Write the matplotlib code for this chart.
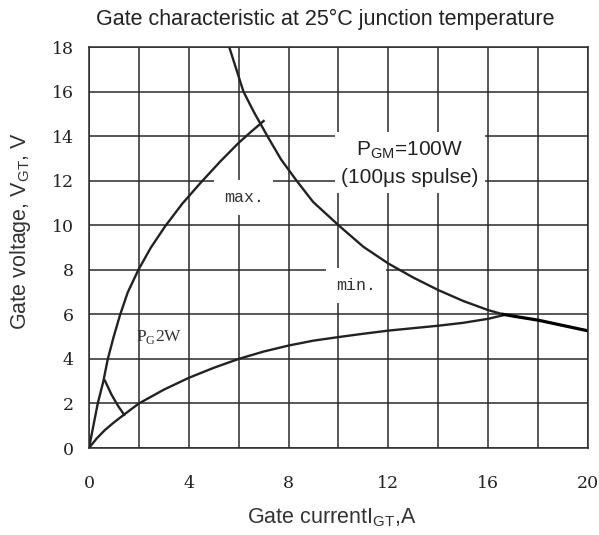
import numpy as np
import matplotlib
matplotlib.use('Agg')
import matplotlib.pyplot as plt

# curve points (I in A, V in V)
max_i = [0, 0.35, 0.57, 0.75, 0.98, 1.24, 1.55, 1.98, 2.47, 3.05, 3.74, 4.47, 5.25, 6.0, 6.5, 7.0]
max_v = [0, 2.0, 2.97, 3.98, 4.96, 5.96, 6.98, 8.0, 8.98, 9.95, 10.97, 11.9, 12.85, 13.7, 14.2, 14.68]

min_i = [0, 0.3, 0.64, 1.0, 1.37, 2.0, 3.0, 4.0, 5.0, 6.0, 7.0, 8.0, 9.0, 10.0, 11.0, 12.0, 13.0, 14.0, 15.0, 16.0, 16.6]
min_v = [0, 0.42, 0.81, 1.15, 1.47, 2.0, 2.62, 3.15, 3.6, 4.0, 4.33, 4.6, 4.82, 4.98, 5.13, 5.27, 5.38, 5.49, 5.62, 5.8, 5.96]

pgm_i = [5.62, 6.19, 6.6, 7.15, 7.7, 8.32, 8.98, 10.0, 11.0, 12.0, 13.0, 14.0, 15.0, 16.0, 16.6]
pgm_v = [18.0, 16.0, 15.1, 14.0, 12.95, 12.0, 11.05, 10.0, 9.03, 8.28, 7.65, 7.09, 6.6, 6.19, 6.0]

pgm_tail_i = [16.6, 17.0, 18.0, 19.0, 20.0]
pgm_tail_v = [6.0, 5.92, 5.74, 5.5, 5.26]

pg_i = [0.64, 0.9, 1.17, 1.41]
pg_v = [3.02, 2.4, 1.88, 1.49]

xticks = [0, 4, 8, 12, 16, 20]
yticks = [0, 2, 4, 6, 8, 10, 12, 14, 16, 18]

fig = plt.figure(figsize=(5.99, 5.35), dpi=100)
ax = fig.add_axes([0.1486, 0.1626, 0.8330, 0.7495])

ax.set_xlim(0, 20)
ax.set_ylim(0, 18)
ax.set_xticks(xticks)
ax.set_yticks(yticks)
ax.set_xticks(np.arange(0, 21, 2), minor=True)
ax.grid(True, which='both', color='#2a2a2a', linewidth=1.1)
ax.set_axisbelow(True)
ax.tick_params(which='both', length=0)
ax.tick_params(axis='x', pad=19.5)
ax.tick_params(axis='y', pad=11)
for lab in ax.get_xticklabels() + ax.get_yticklabels():
    lab.set_fontfamily('DejaVu Serif')
    lab.set_fontsize(12.5)
    lab.set_color('#222222')
for s in ax.spines.values():
    s.set_color('#2a2a2a')
    s.set_linewidth(1.1)

lc = '#222222'
ax.plot(max_i, max_v, color=lc, lw=1.7)
ax.plot(min_i, min_v, color=lc, lw=1.7)
ax.plot(pgm_i, pgm_v, color=lc, lw=1.7)
ax.plot(pgm_tail_i, pgm_tail_v, color='black', lw=2.3)
ax.plot(pg_i, pg_v, color=lc, lw=1.7)

ax.text(6.2, 11.25, 'max.', family='Liberation Mono', fontsize=12, color='#333333',
        ha='center', va='center', bbox=dict(facecolor='white', edgecolor='none', pad=7))
ax.text(10.7, 7.3, 'min.', family='Liberation Mono', fontsize=12, color='#333333',
        ha='center', va='center', bbox=dict(facecolor='white', edgecolor='none', pad=7))
ax.text(2.8, 5.0, r'P$_\mathregular{G}$2W', family='Liberation Serif', fontsize=12.5,
        color='#333333', ha='center', va='center')
ax.text(12.85, 12.78, 'P$_\\mathregular{GM}$=100W\n(100μs spulse)', family='Liberation Sans',
        fontsize=15, color='#222222', ha='center', va='center', multialignment='center',
        linespacing=1.45, bbox=dict(facecolor='white', edgecolor='none', pad=4.5))

fig.text(0.5426, 0.963, 'Gate characteristic at 25°C junction temperature',
         family='Liberation Sans', fontsize=15.5, color='#222222', ha='center', va='center')
fig.text(0.553, 0.032, r'Gate current$\mathregular{I_{GT}}$,A', family='Liberation Sans',
         fontsize=15.5, color='#333333', ha='center', va='center')
fig.text(0.0334, 0.568, r'Gate voltage, V$\mathregular{_{GT}}$, V', family='Liberation Sans',
         fontsize=15.5, color='#333333', ha='center', va='center', rotation=90)

fig.savefig('out.png', dpi=100)
